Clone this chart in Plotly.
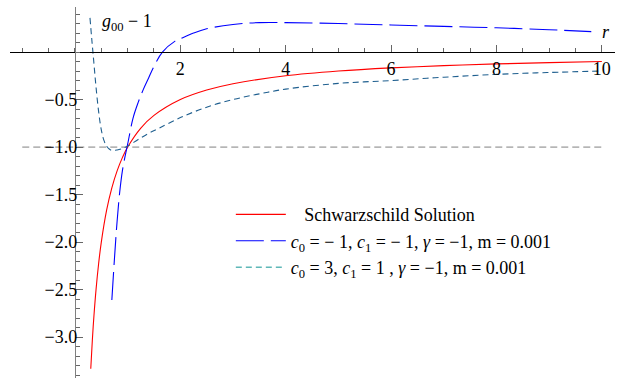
import plotly.graph_objects as go

# values
r_schw = [0.30, 0.33, 0.36, 0.40, 0.45, 0.50, 0.60, 0.70, 0.80, 0.90, 1.00, 1.25, 1.50, 2.00,
          2.50, 3.00, 4.00, 5.00, 6.00, 7.00, 8.00, 9.00, 10.00]
g_schw = [-3.333, -3.030, -2.778, -2.500, -2.222, -2.000, -1.667, -1.429, -1.250, -1.111, -1.000,
          -0.800, -0.667, -0.500, -0.400, -0.333, -0.250, -0.200, -0.167, -0.143, -0.125, -0.111, -0.100]

r_neg = [0.70, 0.75, 0.80, 0.85, 0.90, 0.95, 1.00, 1.10, 1.20, 1.30, 1.40, 1.50, 1.66, 1.90,
         2.00, 2.25, 2.50, 3.00, 3.50, 4.00, 5.00, 6.00, 7.00, 8.00, 9.00, 9.80]
g_neg = [-2.61, -2.17, -1.78, -1.47, -1.25, -1.10, -0.97, -0.70, -0.53, -0.39, -0.27, -0.15, 0.00, 0.115,
         0.14, 0.20, 0.245, 0.29, 0.31, 0.31, 0.30, 0.285, 0.27, 0.255, 0.235, 0.215]

r_pos = [0.285, 0.32, 0.36, 0.40, 0.45, 0.50, 0.55, 0.60, 0.65, 0.70, 0.80, 0.90, 1.00, 1.20, 1.40,
         1.60, 2.00, 2.50, 3.00, 3.50, 4.00, 5.00, 6.00, 7.00, 8.00, 9.00, 10.00]
g_pos = [0.36, 0.13, -0.12, -0.37, -0.63, -0.82, -0.93, -0.99, -1.02, -1.035, -1.03, -1.015, -0.99, -0.92, -0.855,
         -0.80, -0.69, -0.58, -0.50, -0.44, -0.39, -0.33, -0.30, -0.265, -0.235, -0.215, -0.20]

r_ref = [-1.0, 10.0]
g_ref = [-1.0, -1.0]

x_ticks = [2, 4, 6, 8, 10]
y_ticks = [-3.0, -2.5, -2.0, -1.5, -1.0, -0.5]

names = ["\u00a0\u00a0\u00a0Schwarzschild Solution",
         "<i>c</i><sub>0</sub> = − 1, <i>c</i><sub>1</sub> = − 1, <i>γ</i> = −1, m = 0.001",
         "<i>c</i><sub>0</sub> = 3, <i>c</i><sub>1</sub> = 1 , <i>γ</i> = −1, m = 0.001"]

xr = [-1.233, 10.25]
yr = [-3.43, 0.474]
serif = "Liberation Serif, Times New Roman, Times, serif"

fig = go.Figure()
fig.add_trace(go.Scatter(x=r_ref, y=g_ref, mode="lines", showlegend=False,
                         line=dict(color="#808080", width=1, dash="7px,4px")))
fig.add_trace(go.Scatter(x=r_schw, y=g_schw, mode="lines", name=names[0], legendgroup="a",
                         line=dict(color="#ff0000", width=1.1, shape="spline")))
fig.add_trace(go.Scatter(x=r_neg, y=g_neg, mode="lines", name=names[1], legendgroup="b",
                         line=dict(color="#0000ff", width=1.1, shape="spline", dash="28px,7px")))
fig.add_trace(go.Scatter(x=r_pos, y=g_pos, mode="lines", showlegend=False,
                         line=dict(color="#1f5f8f", width=1.1, shape="spline", dash="6px,4px")))
# legend entry for the last curve uses a lighter teal, as in the original
fig.add_trace(go.Scatter(x=[None], y=[None], mode="lines", name=names[2], legendgroup="c",
                         line=dict(color="#5fb8b8", width=1.5, dash="6px,4px")))

fig.update_xaxes(range=xr, anchor="free", position=(0 - yr[0]) / (yr[1] - yr[0]), automargin=False,
                 showline=True, linecolor="black", linewidth=1, showgrid=False, zeroline=False,
                 tickvals=x_ticks, ticktext=[str(v) for v in x_ticks], ticks="inside", ticklen=7,
                 tickcolor="#666", tickfont=dict(family=serif, size=18, color="black"),
                 minor=dict(dtick=0.5, tick0=0, ticks="inside", ticklen=4, tickcolor="#666"))
fig.update_yaxes(range=yr, anchor="free", position=(0 - xr[0]) / (xr[1] - xr[0]), automargin=False,
                 showline=True, linecolor="#808080", linewidth=1.2, showgrid=False, zeroline=False,
                 tickvals=y_ticks, ticktext=["−%.1f" % abs(v) for v in y_ticks], ticks="inside",
                 ticklen=7, tickcolor="#666", tickfont=dict(family=serif, size=18, color="black"),
                 ticklabelstandoff=-6,
                 minor=dict(dtick=0.1, tick0=0, ticks="inside", ticklen=4, tickcolor="#666"))

fig.add_annotation(x=0.47, y=0.31, xref="x", yref="y", xanchor="left", showarrow=False,
                   text="<i>g</i><sub>00</sub> − 1", font=dict(family=serif, size=18, color="black"))
fig.add_annotation(x=10.07, y=0.21, xref="x", yref="y", showarrow=False,
                   text="<i>r</i>", font=dict(family=serif, size=18, color="black"))

fig.update_layout(
    width=624, height=379,
    margin=dict(l=10, r=9, t=7, b=1, autoexpand=False),
    plot_bgcolor="white", paper_bgcolor="white",
    font=dict(family=serif),
    legend=dict(x=0.365, y=0.49, xanchor="left", yanchor="top", bgcolor="rgba(0,0,0,0)",
                font=dict(family=serif, size=18, color="black"), itemwidth=50,
                tracegroupgap=0, traceorder="grouped"),
)
# drop the default page margin so the figure sits at the window's corner
fig.write_html("out.html", config={"displayModeBar": False},
               post_script="document.body.style.margin='0';")
